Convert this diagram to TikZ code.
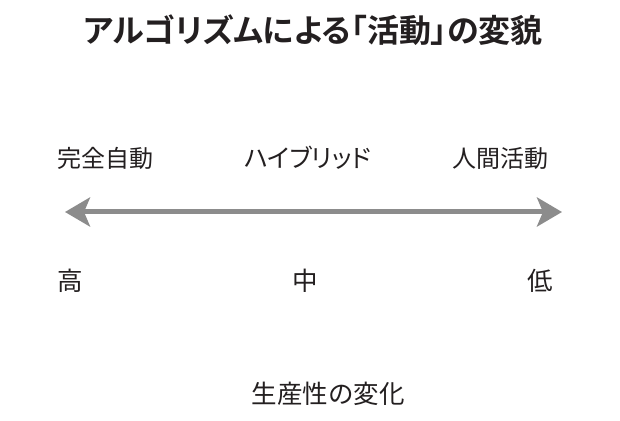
\documentclass[tikz,border=0pt]{standalone}
\usepackage{fontspec}
\setmainfont{Noto Sans CJK JP}
\newfontfamily\titlefont[RawFeature=+palt]{Noto Sans CJK JP Bold}
\newfontfamily\paltfont[RawFeature=+palt]{Noto Sans CJK JP}
\usetikzlibrary{arrows.meta}
\definecolor{arrowgray}{HTML}{8C8C8C}
\definecolor{textblack}{HTML}{231F20}
\begin{document}
\begin{tikzpicture}[x=1pt,y=1pt,
  lbl/.style={inner sep=0pt,text=textblack,font=\fontsize{24}{28}\selectfont},
  lblb/.style={inner sep=0pt,text=textblack,font=\fontsize{25.5}{30}\selectfont},
  ttl/.style={inner sep=0pt,text=textblack,font=\titlefont\fontsize{32}{38}\selectfont},
  bigarrow/.style={line width=5pt,draw=arrowgray,
    {Stealth[length=25pt,width=29pt,inset=6pt]}-{Stealth[length=25pt,width=29pt,inset=6pt]}}]
\useasboundingbox (0,0) rectangle (620,420);
\node[ttl] (title) at (313,390) {アルゴリズムによる「活動」の変貌};
\node[lbl] (auto) at (105,262) {完全自動};
\node[lbl,font=\paltfont\fontsize{25}{30}\selectfont] (hybrid) at (308,262) {ハイブリッド};
\node[lbl] (human) at (500,262) {人間活動};
\coordinate (left) at (65,208);
\coordinate (right) at (562,208);
\draw[bigarrow] (left) -- (right);
\node[lblb] (high) at (70,139) {高};
\node[lblb] (mid) at (305,139) {中};
\node[lblb] (low) at (540,139) {低};
\node[lblb] (prod) at (328,26) {生産性の変化};
\end{tikzpicture}
\end{document}
